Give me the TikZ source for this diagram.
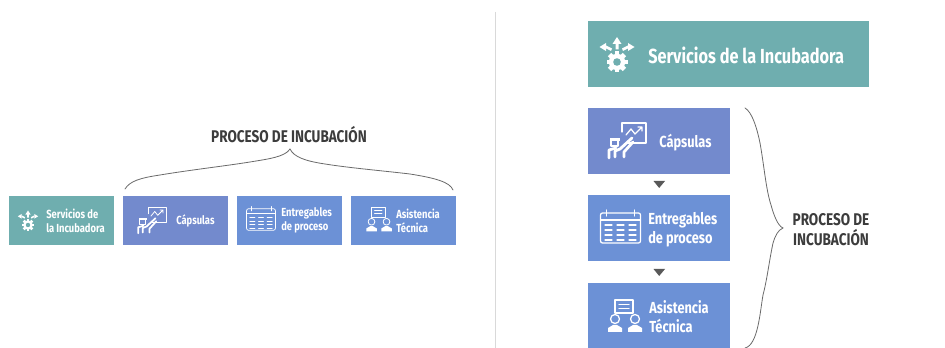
\documentclass[tikz,border=0pt]{standalone}
\usepackage{fontspec}
\setmainfont{Fira Sans}[FakeStretch=0.8]
\definecolor{tealbox}{HTML}{6FAEAF}
\definecolor{violetbox}{HTML}{738ACD}
\definecolor{bluebox}{HTML}{6C91D6}
\definecolor{inkdark}{HTML}{3C3C3C}
\definecolor{bracegray}{HTML}{6A6A6A}
\definecolor{rulegray}{HTML}{D9D9D9}
\tikzset{
  px/.style={x=0.75pt,y=-0.75pt},
  boxbase/.style={draw=none,inner sep=0pt,outer sep=0pt,anchor=north west},
  smallbox/.style={boxbase,minimum width=78.5pt,minimum height=36.75pt},
  wide/.style={boxbase,minimum width=106pt,minimum height=49.5pt},
  tall/.style={boxbase,minimum width=106.5pt,minimum height=49.5pt},
  smalltxt/.style={text=white,font=\bfseries\fontsize{8.8}{10.5}\selectfont,align=left,anchor=west,inner sep=0pt},
  bigtxt/.style={text=white,font=\bfseries\fontsize{12}{14.6}\selectfont,align=left,anchor=west,inner sep=0pt},
  headtxt/.style={text=inkdark,font=\bfseries\fontsize{12.7}{15}\selectfont,align=center,inner sep=0pt},
  bracepath/.style={draw=bracegray,line width=0.6pt,line cap=round},
  ico/.style={draw=white,line width=#1,line cap=round,line join=round},
  gearicon/.pic={
    \fill[white] (0,0) circle (8.2);
    \foreach \a in {0,45,...,315}{\fill[white,rotate=\a] (-2.4,-10.5) rectangle (2.4,-7);}
    \fill[tealbox] (0,0) circle (3.8);
    \fill[white] (-1.5,-12.5) rectangle (1.5,-18) (-4.5,-18) -- (0,-25) -- (4.5,-18) -- cycle;
    \fill[white] (-6,-11) -- (-5,-13.5) -- (-11,-16.5) -- (-11,-13.5) -- cycle;
    \fill[white] (-17.5,-15) -- (-11,-19) -- (-11,-11) -- cycle;
    \fill[white] (6,-11) -- (5,-13.5) -- (11,-16.5) -- (11,-13.5) -- cycle;
    \fill[white] (17.5,-15) -- (11,-19) -- (11,-11) -- cycle;
  },
  charticon/.pic={
    \draw[ico=#1] (2,-8) -- (2,-17) -- (26,-17) -- (26,3) -- (6,3);
    \draw[ico=#1] (6,-5) -- (11,-11) -- (15,-6) -- (22,-13) (18,-13) -- (22,-13) -- (22,-9);
    \draw[ico=#1,line width=2.2*#1] (-5,17) -- (-5,11) -- (0,9) -- (12,-2);
    \draw[ico=#1,line width=2.2*#1] (4,17) -- (4,12) -- (13,2);
    \draw[ico=#1,line width=2.2*#1] (-11,18) -- (-11,10) -- (-4,8);
    \draw[ico=#1] (-9,-1) rectangle (-2,6);
    \fill[white] (-10,-2) rectangle (0,1);
  },
  calicon/.pic={
    \draw[ico=#1,rounded corners=1.5] (-20,-15) rectangle (20,15);
    \draw[ico=#1] (-20,-8) -- (20,-8) (-14,-18) -- (-14,-12) (14,-18) -- (14,-12);
    \foreach \cx in {-12,0,12}{
      \foreach \cy in {-3,2,7,12}{
        \draw[ico=#1] (\cx-3.5,\cy) -- (\cx+3.5,\cy);
      }
    }
  },
  asisticon/.pic={
    \draw[ico=#1] (-10,-20) rectangle (8,-7);
    \draw[ico=#1] (-6,-15.5) -- (4,-15.5) (-6,-11.5) -- (4,-11.5);
    \draw[ico=#1] (-10,-1) circle (4.5) (10,-1) circle (4.5);
    \fill[white] (-17,12) -- (-17,8) -- (-12,5) -- (-8,5) -- (-3,8) -- (-3,12) -- cycle;
    \fill[white] (3,12) -- (3,8) -- (8,5) -- (12,5) -- (17,8) -- (17,12) -- cycle;
  }
}
\begin{document}
\begin{tikzpicture}[px]
\useasboundingbox (0,0) rectangle (945,348);
\fill[white] (0,0) rectangle (945,348);
% divider
\coordinate (ruletop) at (495.5,12);
\coordinate (rulebot) at (495.5,348);
\draw[rulegray,line width=0.6pt] (ruletop) -- (rulebot);
% left row
\node[smallbox,fill=tealbox] (ls) at (9,196) {};
\node[smallbox,fill=violetbox] (lc) at (123,196) {};
\node[smallbox,fill=bluebox] (le) at (237,196) {};
\node[smallbox,fill=bluebox] (la) at (351,196) {};
\pic[scale=.58] at (28,225) {gearicon};
\pic[scale=.75] at (146.5,219.75) {charticon=0.6pt};
\pic[scale=.72] at (261,219.5) {calicon=0.55pt};
\pic[scale=.75] at (379,222.5) {asisticon=0.6pt};
\node[smalltxt] (lst) at (46,220.5) {Servicios de\\la Incubadora};
\node[smalltxt] (lct) at (176,221) {Cápsulas};
\node[smalltxt] (let) at (281,220.5) {Entregables\\de proceso};
\node[smalltxt] (lat) at (396,220.5) {Asistencia\\Técnica};
\node[headtxt] (lh) at (289,135) {PROCESO DE INCUBACIÓN};
% top brace
\coordinate (bl) at (125,189);
\coordinate (bm) at (290,149);
\coordinate (br) at (453,190);
\draw[bracepath] (bl) .. controls (130,181) and (140,178) .. (160,175)
  .. controls (190,170) and (225,166) .. (250,162)
  .. controls (268,159) and (285,157) .. (bm)
  .. controls (294,157) and (305,161) .. (325,164)
  .. controls (350,168) and (385,171) .. (410,174)
  .. controls (435,178) and (450,182) .. (br);
% right column
\node[wide,fill=tealbox,minimum width=210.75pt] (rs) at (588,21) {};
\node[tall,fill=violetbox] (rc) at (588,108) {};
\node[tall,fill=bluebox] (re) at (588,195) {};
\node[tall,fill=bluebox,minimum height=48.75pt] (ra) at (588,283) {};
\pic at (617,62) {gearicon};
\pic at (620,140) {charticon=0.95pt};
\pic at (620.5,228) {calicon=0.95pt};
\pic at (625,320) {asisticon=0.95pt};
\node[bigtxt,font=\bfseries\fontsize{15.3}{18}\selectfont] (rst) at (648,55) {Servicios de la Incubadora};
\node[bigtxt] (rct) at (659,142.5) {Cápsulas};
\node[bigtxt] (ret) at (648,229.5) {Entregables\\de proceso};
\node[bigtxt] (rat) at (649,316.5) {Asistencia\\Técnica};
\node[headtxt] (rh) at (831,230) {PROCESO DE\\INCUBACIÓN};
% triangles
\fill[inkdark!85] (653.5,181) -- (665,181) -- (659.2,188) -- cycle;
\fill[inkdark!85] (653.5,269) -- (665,269) -- (659.2,276) -- cycle;
% right brace
\coordinate (rt) at (745,108);
\coordinate (rm) at (783,228);
\coordinate (rb) at (745,348);
\draw[bracepath] (rt) .. controls (752,112) and (757,128) .. (760,143)
  .. controls (764,165) and (766,190) .. (771,205)
  .. controls (774,216) and (778,226) .. (rm)
  .. controls (778,230) and (775,236) .. (773,243)
  .. controls (769,262) and (767,280) .. (763,295)
  .. controls (760,312) and (758,345) .. (rb);
\end{tikzpicture}
\end{document}
